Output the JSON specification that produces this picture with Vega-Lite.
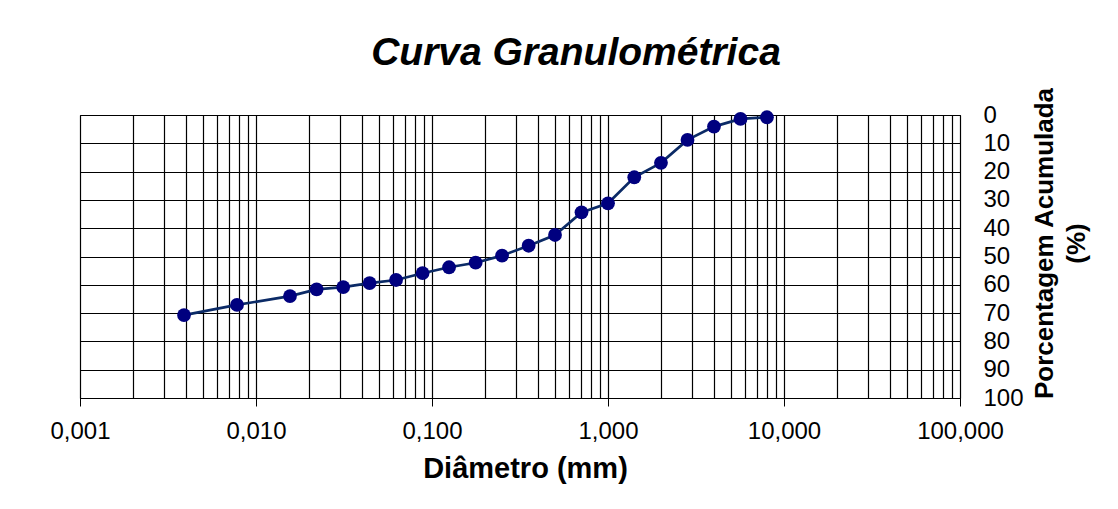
{
  "$schema": "https://vega.github.io/schema/vega-lite/v6.json",
  "width": 880,
  "height": 283,
  "autosize": {"type": "none"},
  "padding": {"left": 80, "top": 115, "right": 158, "bottom": 111},
  "background": "white",
  "title": {
    "text": "Curva Granulométrica",
    "font": "Liberation Sans",
    "fontSize": 39,
    "fontWeight": "bold",
    "fontStyle": "italic",
    "color": "black",
    "anchor": "middle",
    "frame": "group",
    "baseline": "alphabetic",
    "offset": 0,
    "dx": 56,
    "dy": 17
  },
  "data": {
    "values": [
      {"diametro": 0.0039, "pct": 70.7},
      {"diametro": 0.0078, "pct": 67.1},
      {"diametro": 0.0156, "pct": 64.0},
      {"diametro": 0.0221, "pct": 61.6},
      {"diametro": 0.0313, "pct": 60.8},
      {"diametro": 0.0442, "pct": 59.4},
      {"diametro": 0.0625, "pct": 58.3},
      {"diametro": 0.0884, "pct": 55.9},
      {"diametro": 0.125, "pct": 53.8},
      {"diametro": 0.177, "pct": 52.2},
      {"diametro": 0.25, "pct": 49.7},
      {"diametro": 0.354, "pct": 46.2},
      {"diametro": 0.5, "pct": 42.4},
      {"diametro": 0.707, "pct": 34.4},
      {"diametro": 1.0, "pct": 31.2},
      {"diametro": 1.41, "pct": 22.0},
      {"diametro": 2.0, "pct": 16.9},
      {"diametro": 2.83, "pct": 8.8},
      {"diametro": 4.0, "pct": 4.1},
      {"diametro": 5.66, "pct": 1.4},
      {"diametro": 8.0, "pct": 0.8}
    ]
  },
  "encoding": {
    "x": {
      "field": "diametro",
      "type": "quantitative",
      "scale": {"type": "log", "domain": [0.001, 100], "nice": false},
      "axis": {
        "title": "Diâmetro (mm)",
        "titleFont": "Liberation Sans",
        "titleFontSize": 29,
        "titleFontWeight": "bold",
        "titleColor": "black",
        "titleBaseline": "alphabetic",
        "titleY": 79,
        "titleX": 445,
        "values": [0.001, 0.002, 0.003, 0.004, 0.005, 0.006, 0.007, 0.008, 0.009,
                   0.01, 0.02, 0.03, 0.04, 0.05, 0.06, 0.07, 0.08, 0.09,
                   0.1, 0.2, 0.3, 0.4, 0.5, 0.6, 0.7, 0.8, 0.9,
                   1, 2, 3, 4, 5, 6, 7, 8, 9,
                   10, 20, 30, 40, 50, 60, 70, 80, 90, 100],
        "labelExpr": "abs(log(datum.value)/LN10 - round(log(datum.value)/LN10)) < 0.000001 ? replace(format(datum.value, '.3f'), '.', ',') : ''",
        "labelOverlap": false,
        "labelFont": "Liberation Sans",
        "labelFontSize": 24,
        "labelColor": "black",
        "labelBaseline": "alphabetic",
        "labelPadding": 32,
        "labelFlush": false,
        "grid": true,
        "gridColor": "black",
        "gridWidth": 1.2,
        "gridOpacity": 1,
        "ticks": true,
        "tickSize": 8,
        "tickColor": "black",
        "tickOpacity": {"condition": {"test": "abs(log(datum.value)/LN10 - round(log(datum.value)/LN10)) < 0.000001", "value": 1}, "value": 0},
        "domain": true,
        "domainColor": "black"
      }
    },
    "y": {
      "field": "pct",
      "type": "quantitative",
      "scale": {"domain": [0, 100], "reverse": true, "nice": false},
      "axis": {
        "orient": "right",
        "title": ["Porcentagem Acumulada", "(%)"],
        "titleFont": "Liberation Sans",
        "titleFontSize": 26,
        "titleFontWeight": "bold",
        "titleColor": "black",
        "titleAngle": 270,
        "titleAlign": "center",
        "titleBaseline": "middle",
        "titleLineHeight": 32,
        "titleX": 84,
        "titleY": 128,
        "values": [0, 10, 20, 30, 40, 50, 60, 70, 80, 90, 100],
        "labelFont": "Liberation Sans",
        "labelFontSize": 24,
        "labelColor": "black",
        "labelPadding": 23,
        "labelAlign": "left",
        "labelFlush": false,
        "labelOverlap": false,
        "grid": true,
        "gridColor": "black",
        "gridWidth": 1.2,
        "gridOpacity": 1,
        "ticks": false,
        "domain": false
      }
    }
  },
  "layer": [
    {"mark": {"type": "line", "color": "#0b2a66", "strokeWidth": 2.7}},
    {"mark": {"type": "point", "shape": "circle", "filled": true, "size": 190, "color": "#00007f", "opacity": 1}}
  ],
  "config": {
    "view": {"stroke": "black", "strokeWidth": 1}
  }
}
